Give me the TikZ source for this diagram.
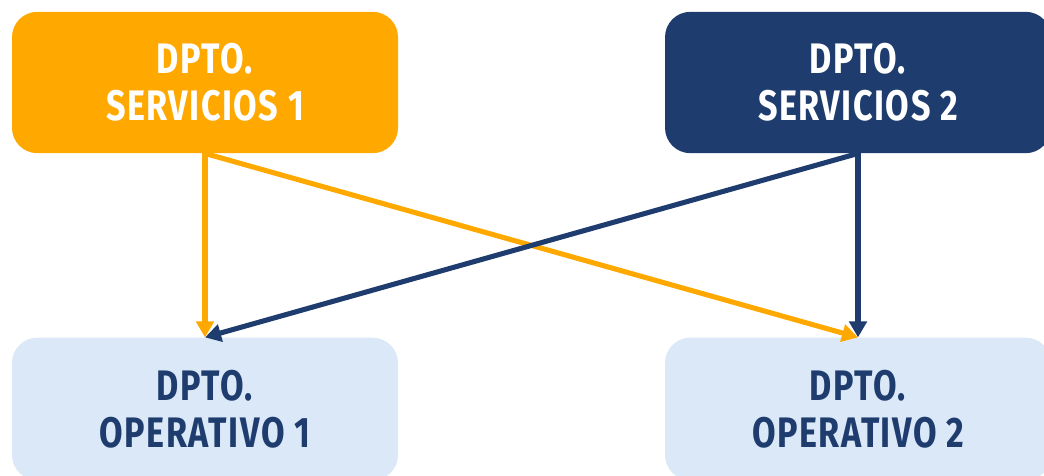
\documentclass[tikz,border=0pt]{standalone}
\usepackage{fontspec}
\setmainfont{Fira Sans}[UprightFont=* Bold, FakeStretch=0.8, LetterSpace=3.5]
\usetikzlibrary{arrows.meta}
\definecolor{deptorange}{RGB}{255,168,0}
\definecolor{deptnavy}{RGB}{31,60,110}
\definecolor{deptlight}{RGB}{218,232,247}
\tikzset{
  x=0.75pt, y=-0.75pt,
  dept/.style={rounded corners=19pt, minimum width=289.5pt, minimum height=106pt,
    align=center, inner sep=0pt, font=\fontsize{32}{35.5}\selectfont},
  service/.style={dept, fill=#1, text=white},
  operative/.style={dept, fill=deptlight, text=deptnavy},
  link/.style={line width=3.8pt, draw=#1,
    -{Triangle[length=12pt,width=13pt]}},
}
\begin{document}
\begin{tikzpicture}
  \useasboundingbox (0,0) rectangle (1044,475);
  % source departments
  \node[service=deptorange] (s1) at (205,82.5) {DPTO.\\SERVICIOS 1};
  \node[service=deptnavy]   (s2) at (858,82.5) {DPTO.\\SERVICIOS 2};
  % receiving departments
  \node[operative, minimum height=107pt] (o1) at (205,409) {DPTO.\\OPERATIVO 1};
  \node[operative, minimum height=107pt] (o2) at (858,409) {DPTO.\\OPERATIVO 2};
  % connections
  \draw[link=deptorange] (s1.south) -- (o1.north);
  \draw[link=deptorange] (s1.south) -- (o2.north);
  \draw[link=deptnavy] (s2.south) -- (o2.north);
  \draw[link=deptnavy] (s2.south) -- (o1.north);
\end{tikzpicture}
\end{document}
